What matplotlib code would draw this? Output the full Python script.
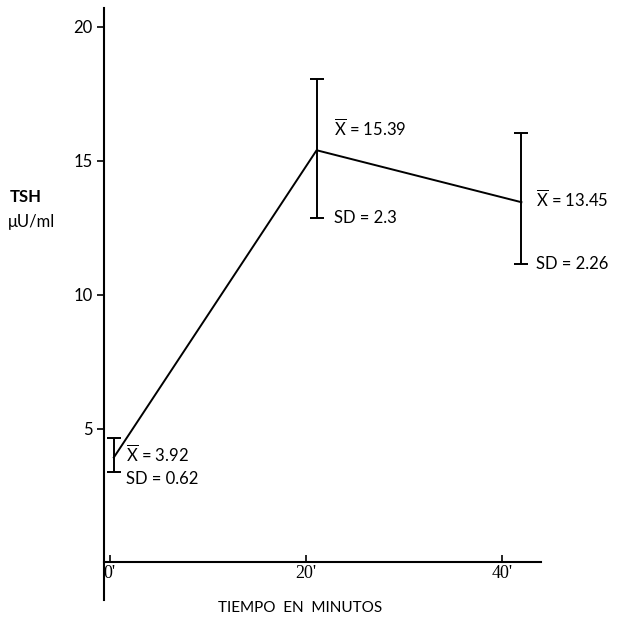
import matplotlib
matplotlib.use("Agg")
import matplotlib.pyplot as plt

# minutes as placed on the chart (points sit a bit right of the ticks)
times = [0.4, 21.1, 42.0]
tsh_mean = [3.92, 15.39, 13.45]
bar_low = [3.38, 12.85, 11.15]
bar_high = [4.66, 18.05, 16.05]
mean_txt = ["3.92", "15.39", "13.45"]
sd_txt = ["0.62", "2.3", "2.26"]

xticks = [0, 20, 40]
xtick_labels = ["0'", "20'", "40'"]
yticks = [5, 10, 15, 20]

plt.rcParams['font.family'] = ['Lato', 'DejaVu Sans']
plt.rcParams['mathtext.fontset'] = 'custom'
plt.rcParams['mathtext.rm'] = 'Lato'

fig = plt.figure(figsize=(6.22, 6.27), dpi=100)
ax = fig.add_axes([104 / 622, 1 - 600 / 627, 437 / 622, 592 / 627])
ax.set_xlim(-0.6, 44)
ax.set_ylim(-1.4, 20.7)

err_lo = [m - l for m, l in zip(tsh_mean, bar_low)]
err_hi = [h - m for m, h in zip(tsh_mean, bar_high)]
ax.errorbar(times, tsh_mean, yerr=[err_lo, err_hi], color='black', lw=1.4,
            elinewidth=1.4, capsize=5, capthick=1.4)

# labels next to each point
dx = [1.2, 1.8, 1.45]
mean_dy = [0.1, 0.8, 0.1]
for i in range(3):
    ax.text(times[i] + dx[i], tsh_mean[i] + mean_dy[i],
            r'$\overline{\rm X}$' + ' = ' + mean_txt[i],
            fontsize=12, va='center', ha='left')
    sd_y = tsh_mean[i] - 0.8 if i == 0 else bar_low[i]
    ax.text(times[i] + dx[i], sd_y, 'SD = ' + sd_txt[i],
            fontsize=12, va='center', ha='left')

for s in ['top', 'right']:
    ax.spines[s].set_visible(False)
ax.spines['bottom'].set_position(('data', 0))
ax.spines['left'].set_linewidth(1.5)
ax.spines['bottom'].set_linewidth(1.5)

ax.set_yticks(yticks)
ax.set_yticklabels([str(v) for v in yticks], fontsize=12)
ax.tick_params(axis='y', direction='out', length=5, width=1.2, pad=3)
ax.set_xticks(xticks)
ax.set_xticklabels(xtick_labels, fontsize=13, family='Liberation Serif')
ax.tick_params(axis='x', direction='in', length=5, width=1.2, pad=2)

fig.text(10 / 622, 1 - 197 / 627, 'TSH', fontsize=12, fontweight='bold',
         va='center', ha='left')
fig.text(8 / 622, 1 - 222 / 627, 'μU/ml', fontsize=12, va='center', ha='left')
fig.text(300 / 622, 1 - 608 / 627, 'TIEMPO  EN  MINUTOS', fontsize=11,
         va='center', ha='center')

fig.savefig('out.png', dpi=100)
